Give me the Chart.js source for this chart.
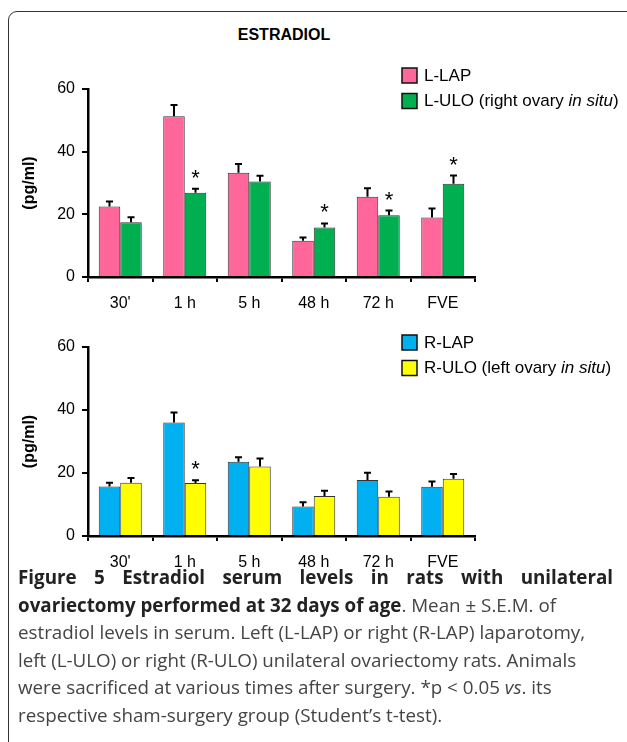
<!DOCTYPE html>
<html>
<head>
<meta charset="utf-8">
<script src="https://cdn.jsdelivr.net/npm/chart.js@4.4.1/dist/chart.umd.min.js"></script>
<style>
  html, body { margin: 0; padding: 0; background: #fff; }
  body { width: 627px; height: 742px; position: relative; overflow: hidden; }
  #frame { position: absolute; left: 8px; top: 11px; width: 650px; height: 780px;
           border: 1.5px solid #333; border-radius: 9px; box-sizing: border-box; }
  #title { position: absolute; left: 184px; width: 200px; top: 26px; text-align: center;
           font: bold 16px "Liberation Sans", Arial, sans-serif; color: #000; }
  .cw { position: absolute; left: 0; width: 627px; }
  #c1w { top: 0; height: 320px; }
  #c2w { top: 320px; height: 260px; }
  #caption { position: absolute; left: 18px; top: 564px; width: 595px;
             font-family: "Open Sans", sans-serif; font-size: 18.8px; color: #444; }
  #caption div { height: 27.6px; line-height: 27.6px; white-space: nowrap; }
  #caption b { color: #222; font-weight: 700; }
  #caption .j { text-align: justify; text-align-last: justify; white-space: normal; }
</style>
</head>
<body>
<div id="frame"></div>
<div id="title">ESTRADIOL</div>
<div class="cw" id="c1w"><canvas id="c1"></canvas></div>
<div class="cw" id="c2w"><canvas id="c2"></canvas></div>
<div id="caption">
  <div class="j"><b>Figure 5 Estradiol serum levels in rats with unilateral</b></div>
  <div><b>ovariectomy performed at 32 days of age</b>. Mean ± S.E.M. of</div>
  <div>estradiol levels in serum. Left (L-LAP) or right (R-LAP) laparotomy,</div>
  <div>left (L-ULO) or right (R-ULO) unilateral ovariectomy rats. Animals</div>
  <div>were sacrificed at various times after surgery. *p &lt; 0.05 <i>vs</i>. its</div>
  <div>respective sham-surgery group (Student’s t-test).</div>
</div>
<script>
// ---- data ----
const categories = ["30'", "1 h", "5 h", "48 h", "72 h", "FVE"];
const yTicks = [0, 20, 40, 60];

const lLapName = "L-LAP";
const lLapMean = [22.5, 51.3, 33.3, 11.6, 25.6, 19.0];
const lLapSem  = [1.6, 3.6, 2.8, 1.0, 2.7, 2.9];

const lUloName = "L-ULO (right ovary in situ)";
const lUloMean = [17.5, 26.9, 30.5, 15.8, 19.7, 29.8];
const lUloSem  = [1.6, 1.3, 1.8, 1.3, 1.5, 2.6];
const lUloSig  = [false, true, false, true, true, true];

const rLapName = "R-LAP";
const rLapMean = [15.7, 36.0, 23.6, 9.4, 17.8, 15.6];
const rLapSem  = [1.2, 3.2, 1.4, 1.3, 2.3, 1.7];

const rUloName = "R-ULO (left ovary in situ)";
const rUloMean = [16.9, 16.8, 22.1, 12.7, 12.5, 18.2];
const rUloSem  = [1.5, 0.9, 2.5, 1.7, 1.6, 1.5];
const rUloSig  = [false, true, false, false, false, false];

const FONT = '"Liberation Sans", Arial, sans-serif';

// error bars + significance stars
const errorBars = {
  id: 'errorBars',
  afterDatasetsDraw(chart) {
    const ctx = chart.ctx, ys = chart.scales.y;
    chart.data.datasets.forEach((ds, i) => {
      const meta = chart.getDatasetMeta(i);
      meta.data.forEach((bar, j) => {
        const top = ys.getPixelForValue(ds.data[j] + ds.sem[j]);
        ctx.save();
        ctx.strokeStyle = '#000';
        ctx.lineWidth = 2;
        ctx.beginPath();
        ctx.moveTo(bar.x, bar.y);
        ctx.lineTo(bar.x, top);
        ctx.moveTo(bar.x - 3.5, top);
        ctx.lineTo(bar.x + 3.5, top);
        ctx.stroke();
        if (ds.sig && ds.sig[j]) {
          ctx.fillStyle = '#000';
          ctx.font = '22px ' + FONT;
          ctx.textAlign = 'center';
          ctx.textBaseline = 'middle';
          ctx.fillText('*', bar.x, top - 10);
        }
        ctx.restore();
      });
    });
  }
};

// custom legend with italic "in situ"
const richLegend = {
  id: 'richLegend',
  afterDraw(chart, args, opts) {
    const ctx = chart.ctx;
    chart.data.datasets.forEach((ds, i) => {
      const by = opts.top + i * opts.step;
      ctx.save();
      ctx.fillStyle = ds.backgroundColor;
      ctx.fillRect(opts.left, by, 15, 15);
      ctx.strokeStyle = '#111';
      ctx.lineWidth = 1.5;
      ctx.strokeRect(opts.left, by, 15, 15);
      ctx.fillStyle = '#000';
      ctx.textBaseline = 'middle';
      ctx.textAlign = 'left';
      let x = opts.left + 22;
      const y = by + 8;
      const parts = ds.label.split('in situ');
      const segs = [];
      parts.forEach((p, k) => {
        segs.push([p, false]);
        if (k < parts.length - 1) segs.push(['in situ', true]);
      });
      segs.forEach(([t, it]) => {
        ctx.font = (it ? 'italic ' : '') + '17px ' + FONT;
        ctx.fillText(t, x, y);
        x += ctx.measureText(t).width;
      });
      ctx.restore();
    });
  }
};

function makeChart(id, ds, padTop, chartH, legendTop) {
  const canvasH = document.getElementById(id).parentNode.clientHeight;
  return new Chart(document.getElementById(id), {
    type: 'bar',
    data: { labels: categories, datasets: ds },
    options: {
      responsive: true,
      maintainAspectRatio: false,
      animation: false,
      events: [],
      layout: { padding: { left: 0, right: 152, top: padTop, bottom: 0 } },
      plugins: {
        legend: { display: false },
        tooltip: { enabled: false },
        richLegend: { left: 402, top: legendTop, step: 25.5 }
      },
      datasets: { bar: { categoryPercentage: 0.667, barPercentage: 1.0 } },
      scales: {
        x: {
          grid: { offset: true, drawOnChartArea: false, drawTicks: true, tickLength: 5, color: '#000', lineWidth: 2 },
          border: { display: true, color: '#000', width: 2.5 },
          ticks: { color: '#000', font: { family: FONT, size: 16 }, padding: 12, maxRotation: 0 },
          afterFit(s) { s.height = canvasH - padTop - chartH; }
        },
        y: {
          min: 0, max: 60,
          afterBuildTicks(s) { s.ticks = yTicks.map(v => ({ value: v })); },
          grid: { drawOnChartArea: false, drawTicks: true, tickLength: 6, color: '#000', lineWidth: 2 },
          border: { display: true, color: '#000', width: 2.5 },
          ticks: { color: '#000', font: { family: FONT, size: 16 }, padding: 7 },
          title: { display: true, text: '(pg/ml)', color: '#000', font: { family: FONT, size: 16, weight: 'bold' }, padding: { top: 20 } },
          afterFit(s) { s.width = 88; }
        }
      }
    },
    plugins: [errorBars, richLegend]
  });
}

function dataset(label, mean, sem, sig, color) {
  return { label, data: mean, sem, sig, backgroundColor: color, borderColor: '#333', borderWidth: 1 };
}

makeChart('c1', [
  dataset(lLapName, lLapMean, lLapSem, null, '#FF6699'),
  dataset(lUloName, lUloMean, lUloSem, lUloSig, '#00B050')
], 89, 188, 68);

makeChart('c2', [
  dataset(rLapName, rLapMean, rLapSem, null, '#00B0F0'),
  dataset(rUloName, rUloMean, rUloSem, rUloSig, '#FFFF00')
], 27, 189, 15);
</script>
</body>
</html>
